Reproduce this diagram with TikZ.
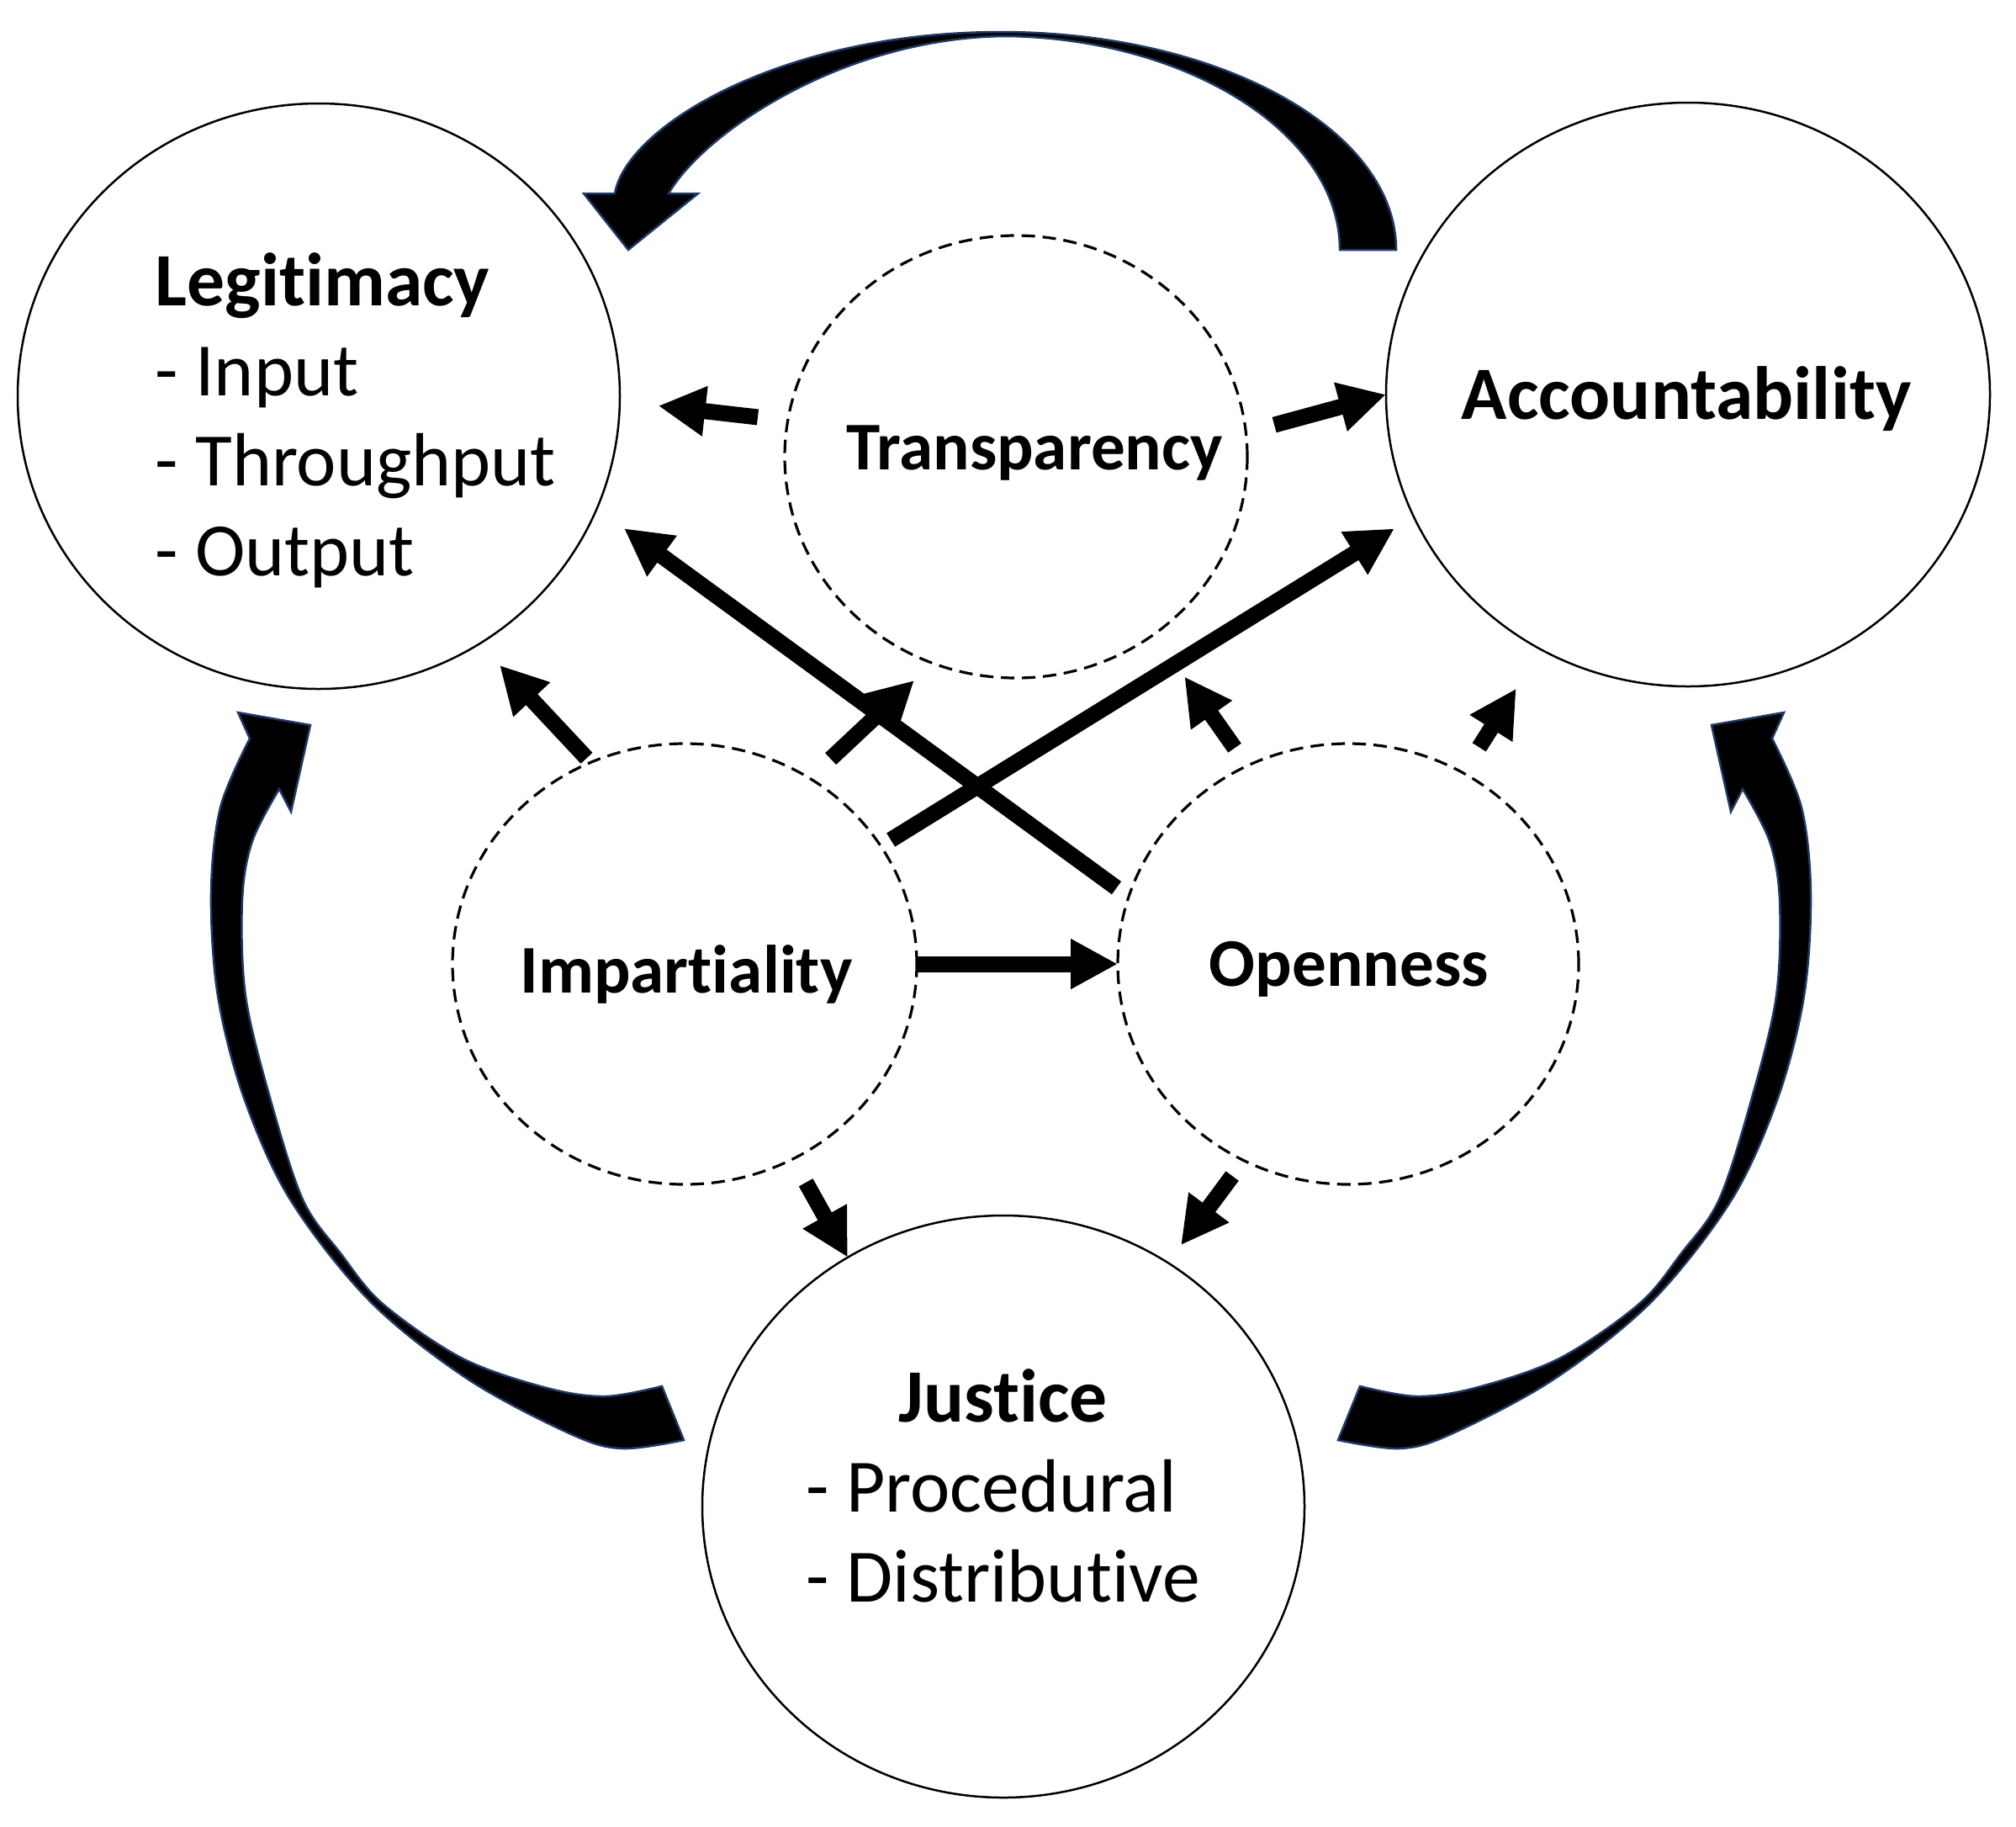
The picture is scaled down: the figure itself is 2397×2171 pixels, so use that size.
\documentclass[tikz,border=0pt]{standalone}
\usepackage{fontspec}
\setmainfont{Carlito}[Ligatures={NoCommon}]
\usetikzlibrary{arrows.meta,shapes.geometric}
\definecolor{navy}{RGB}{31,56,100}
\tikzset{
  solidc/.style={ellipse, draw=black, line width=0.25mm, inner sep=0pt, outer sep=0pt},
  dashc/.style={ellipse, draw=black, line width=0.32mm, dash pattern=on 1.6mm off 0.9mm, inner sep=0pt, outer sep=0pt},
  outerlbl/.style={inner sep=0pt, font=\fontsize{25.5}{30.45}\selectfont},
  innerlbl/.style={inner sep=0pt, font=\fontsize{23.1}{27.7}\selectfont\bfseries},
  arr/.style={line width=1.9mm, -{Triangle[width=5.6mm,length=5.6mm]}},
  bigarrow/.style={fill=black, draw=navy, line width=0.25mm, line join=miter},
}
\newcommand\sidearrowshape{%
\filldraw[bigarrow] (297,878) -- (283,847) -- (369,862) -- (346,965) -- (332,938)
 -- plot[smooth, tension=0.55] coordinates {(332,938) (300,1000) (288,1070) (292,1184) (321,1305) (360,1426) (405,1490) (455,1550) (550,1615) (650,1650) (720,1660) (787,1648)}
 -- (813,1712)
 -- plot[smooth, tension=0.55] coordinates {(813,1712) (740,1722) (679,1705) (557,1640) (440,1547) (345,1426) (290,1305) (259,1184) (251,1062) (262,960) (297,878)}
 -- cycle;}
\begin{document}
\begin{tikzpicture}[x=0.1mm, y=-0.1mm]
\useasboundingbox (0,0) rectangle (2397,2171);
% circles
\node[solidc, minimum width=71.6mm, minimum height=69.6mm] (L) at (379,471) {};
\node[solidc, minimum width=71.8mm, minimum height=69.4mm] (A) at (2007,469) {};
\node[dashc, minimum width=55mm, minimum height=52.6mm] (T) at (1208,543) {};
\node[dashc, minimum width=55.2mm, minimum height=52.4mm] (I) at (814,1146) {};
\node[dashc, minimum width=54.8mm, minimum height=52.4mm] (O) at (1603,1146) {};
\node[solidc, minimum width=71.6mm, minimum height=69.2mm] (J) at (1193,1791) {};
% labels
\node[outerlbl, anchor=base west] (Ltxt) at (184,363) {\begin{tabular}[t]{@{}l@{}}\textbf{Legitimacy}\\- Input\\- Throughput\\- Output\end{tabular}};
\node[outerlbl, anchor=base] (Atxt) at (2005,498) {\textbf{Accountability}};
\node[outerlbl, anchor=base west] (Jtxt) at (958,1690) {\begin{tabular}[t]{@{}l@{}}\multicolumn{1}{@{}c@{}}{\textbf{Justice}}\\- Procedural\\- Distributive\end{tabular}};
\node[innerlbl, anchor=base] (Ttxt) at (1230,558) {Transparency};
\node[innerlbl, anchor=base] (Itxt) at (816,1180) {Impartiality};
\node[innerlbl, anchor=base] (Otxt) at (1604,1172) {Openness};
% straight arrows
\draw[arr, shorten <=3.6mm, shorten >=4.6mm] (T.171.8) -- (L.-1.7);
\draw[arr, shorten <=3.5mm] (T.6.8) -- (A.180);
\draw[arr] (I.-0.8) -- (O.180.8);
\draw[arr, shorten <=1.8mm, shorten >=4.0mm] (O.163.1) -- (L.-22.9);
\draw[arr, shorten <=1.4mm, shorten >=2.7mm] (I.31.7) -- (A.204.5);
\draw[arr, shorten <=3.4mm, shorten >=3.0mm] (I.56.8) -- (T.248.6);
\draw[arr, shorten <=0.7mm, shorten >=3.5mm] (I.115.4) -- (L.-57);
\draw[arr, shorten <=2.6mm, shorten >=6.2mm] (O.117.6) -- (T.-52.6);
\draw[arr, shorten <=3.6mm, shorten >=5.5mm] (O.59.2) -- (A.240.2);
\draw[arr, shorten <=3.2mm] (I.-61.6) -- (J.122.1);
\draw[arr, shorten <=2.3mm, shorten >=2.6mm] (O.242) -- (J.56);
% big curved arrows
\filldraw[bigarrow] (731,230) .. controls (745,150) and (930,38) .. (1190,38)
  .. controls (1450,38) and (1660,154) .. (1660,297) -- (1593,297)
  .. controls (1593,158) and (1410,45) .. (1195,43)
  .. controls (1000,45) and (835,160) .. (795,230)
  -- (830,230) -- (747,297) -- (694,230) -- cycle;
\sidearrowshape
\begin{scope}[xshift=240.4mm, xscale=-1]
\sidearrowshape
\end{scope}
\end{tikzpicture}
\end{document}
